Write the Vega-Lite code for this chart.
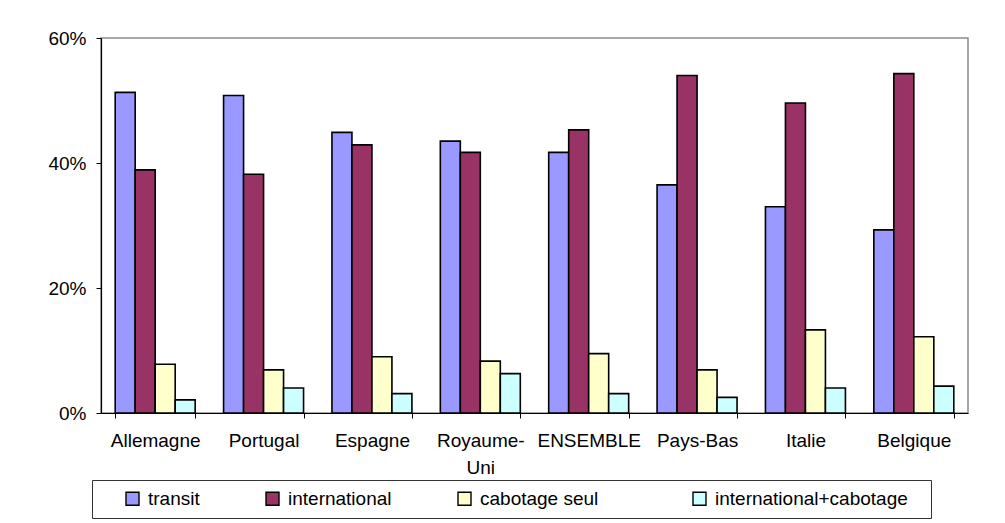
{
  "$schema": "https://vega.github.io/schema/vega-lite/v6.json",
  "width": 867,
  "height": 375,
  "autosize": {"type": "none"},
  "padding": {"left": 101, "top": 38, "right": 37, "bottom": 110},
  "background": "white",
  "config": {
    "font": "Liberation Sans",
    "view": {"stroke": "#8c8c8c", "strokeWidth": 1.5},
    "axis": {"labelFont": "Liberation Sans", "labelColor": "black", "domainColor": "black", "tickColor": "black"}
  },
  "data": {
    "values": [
      {"pays": "Allemagne", "type": "transit", "part": 51.3},
      {"pays": "Allemagne", "type": "international", "part": 38.9},
      {"pays": "Allemagne", "type": "cabotage seul", "part": 7.8},
      {"pays": "Allemagne", "type": "international+cabotage", "part": 2.1},
      {"pays": "Portugal", "type": "transit", "part": 50.8},
      {"pays": "Portugal", "type": "international", "part": 38.2},
      {"pays": "Portugal", "type": "cabotage seul", "part": 6.9},
      {"pays": "Portugal", "type": "international+cabotage", "part": 4.0},
      {"pays": "Espagne", "type": "transit", "part": 44.9},
      {"pays": "Espagne", "type": "international", "part": 42.9},
      {"pays": "Espagne", "type": "cabotage seul", "part": 9.0},
      {"pays": "Espagne", "type": "international+cabotage", "part": 3.1},
      {"pays": "Royaume-Uni", "type": "transit", "part": 43.5},
      {"pays": "Royaume-Uni", "type": "international", "part": 41.7},
      {"pays": "Royaume-Uni", "type": "cabotage seul", "part": 8.3},
      {"pays": "Royaume-Uni", "type": "international+cabotage", "part": 6.3},
      {"pays": "ENSEMBLE", "type": "transit", "part": 41.7},
      {"pays": "ENSEMBLE", "type": "international", "part": 45.3},
      {"pays": "ENSEMBLE", "type": "cabotage seul", "part": 9.5},
      {"pays": "ENSEMBLE", "type": "international+cabotage", "part": 3.1},
      {"pays": "Pays-Bas", "type": "transit", "part": 36.5},
      {"pays": "Pays-Bas", "type": "international", "part": 54.0},
      {"pays": "Pays-Bas", "type": "cabotage seul", "part": 6.9},
      {"pays": "Pays-Bas", "type": "international+cabotage", "part": 2.5},
      {"pays": "Italie", "type": "transit", "part": 33.0},
      {"pays": "Italie", "type": "international", "part": 49.6},
      {"pays": "Italie", "type": "cabotage seul", "part": 13.3},
      {"pays": "Italie", "type": "international+cabotage", "part": 4.0},
      {"pays": "Belgique", "type": "transit", "part": 29.3},
      {"pays": "Belgique", "type": "international", "part": 54.3},
      {"pays": "Belgique", "type": "cabotage seul", "part": 12.2},
      {"pays": "Belgique", "type": "international+cabotage", "part": 4.3}
    ]
  },
  "mark": {"type": "bar", "stroke": "black", "strokeWidth": 1.6},
  "encoding": {
    "x": {
      "field": "pays",
      "type": "nominal",
      "sort": ["Allemagne", "Portugal", "Espagne", "Royaume-Uni", "ENSEMBLE", "Pays-Bas", "Italie", "Belgique"],
      "scale": {"paddingInner": 0.262, "paddingOuter": 0.131},
      "axis": {
        "title": null,
        "labelAngle": 0,
        "labelFontSize": 19,
        "labelPadding": 13,
        "labelLineHeight": 27,
        "labelExpr": "datum.label == 'Royaume-Uni' ? ['Royaume-', 'Uni'] : datum.label",
        "tickBand": "extent",
        "tickSize": 5,
        "domainWidth": 1.2
      }
    },
    "xOffset": {
      "field": "type",
      "type": "nominal",
      "sort": ["transit", "international", "cabotage seul", "international+cabotage"],
      "scale": {"paddingInner": 0, "paddingOuter": 0}
    },
    "y": {
      "field": "part",
      "type": "quantitative",
      "scale": {"domain": [0, 60], "nice": false},
      "axis": {
        "title": null,
        "values": [0, 20, 40, 60],
        "labelExpr": "datum.value + '%'",
        "labelFontSize": 19,
        "labelPadding": 10,
        "tickSize": 5,
        "grid": false,
        "domainWidth": 1.2
      }
    },
    "color": {
      "field": "type",
      "type": "nominal",
      "sort": ["transit", "international", "cabotage seul", "international+cabotage"],
      "scale": {
        "domain": ["transit", "international", "cabotage seul", "international+cabotage"],
        "range": ["#9999FF", "#993366", "#FFFFCC", "#CCFFFF"]
      },
      "legend": {
        "orient": "none",
        "legendX": -9,
        "legendY": 442,
        "direction": "horizontal",
        "title": "\u00a0",
        "titleOrient": "left",
        "titlePadding": 22,
        "titleFontSize": 19,
        "symbolType": "square",
        "symbolSize": 169,
        "symbolStrokeColor": "black",
        "symbolStrokeWidth": 1.4,
        "labelFontSize": 19,
        "labelColor": "black",
        "labelOffset": 6,
        "labelLimit": 400,
        "columnPadding": 63,
        "padding": 9,
        "strokeColor": "#333333",
        "labelExpr": "datum.label == 'international+cabotage' ? datum.label + '\u2800' : datum.label == 'cabotage seul' ? datum.label + '\u2800\u2800' : datum.label"
      }
    }
  }
}
